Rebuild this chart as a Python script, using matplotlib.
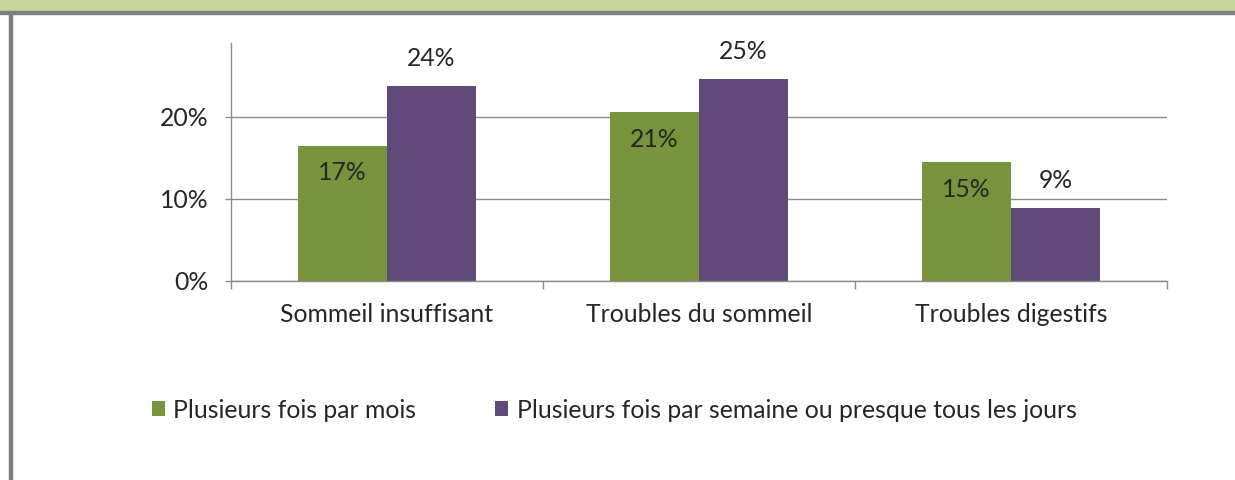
import numpy as np
import matplotlib.pyplot as plt
from matplotlib.patches import Rectangle

plt.rcParams['font.family'] = ['Lato', 'DejaVu Sans']

# data
categories = ['Sommeil insuffisant', 'Troubles du sommeil', 'Troubles digestifs']
series_names = ['Plusieurs fois par mois', 'Plusieurs fois par semaine ou presque tous les jours']
mois = [0.165, 0.206, 0.145]
semaine = [0.237, 0.246, 0.089]
labels_mois = ['17%', '21%', '15%']
labels_semaine = ['24%', '25%', '9%']
yticks = [0, 0.1, 0.2]
ytick_labels = ['0%', '10%', '20%']

green = '#77933C'
purple = '#604A7B'
grey = '#8C8C8C'
txt = '#262626'

W, H = 1235, 480
fig = plt.figure(figsize=(W/100, H/100), dpi=100)

# frame decoration (band on top, border on the left)
fig.patches.append(Rectangle((0, 1-11/H), 1, 11/H, transform=fig.transFigure, color='#C4D69C', zorder=0))
fig.patches.append(Rectangle((0, 1-14/H), 1, 3/H, transform=fig.transFigure, color='#7F7F7F', zorder=0))
fig.patches.append(Rectangle((9/W, 0), 2.5/W, 1-14/H, transform=fig.transFigure, color='#7F7F7F', zorder=0))

ax = fig.add_axes([231/W, (H-281)/H, 936/W, (281-43)/H])
x = np.arange(len(categories))
bw = 0.285
b1 = ax.bar(x-bw/2, mois, bw, color=green, zorder=2, label=series_names[0])
b2 = ax.bar(x+bw/2, semaine, bw, color=purple, zorder=2, label=series_names[1])

fs = 17.8
for rect, lab in zip(b1, labels_mois):
    ax.annotate(lab, (rect.get_x()+rect.get_width()/2, rect.get_height()), xytext=(0, -19.5),
                textcoords='offset points', ha='center', va='center', fontsize=fs, color=txt)
for rect, lab in zip(b2, labels_semaine):
    ax.annotate(lab, (rect.get_x()+rect.get_width()/2, rect.get_height()), xytext=(0, 20),
                textcoords='offset points', ha='center', va='center', fontsize=fs, color=txt)

ax.set_xlim(-0.5, len(categories)-0.5)
ax.set_ylim(0, 0.29)
ax.set_yticks(yticks)
ax.set_yticklabels(ytick_labels, fontsize=fs, color=txt)
ax.set_xticks(x)
ax.set_xticklabels(categories, fontsize=fs, color=txt)
ax.set_xticks(np.arange(-0.5, len(categories)), minor=True)
ax.tick_params(axis='x', which='major', length=0, pad=16)
ax.tick_params(axis='x', which='minor', length=6, color=grey, width=1)
ax.tick_params(axis='y', length=4.5, color=grey, width=1, pad=12)
ax.yaxis.grid(True, color=grey, linewidth=1, zorder=0)
ax.set_axisbelow(True)
for s in ['top', 'right']:
    ax.spines[s].set_visible(False)
for s in ['left', 'bottom']:
    ax.spines[s].set_color(grey)
    ax.spines[s].set_linewidth(1)

fig.legend(handles=[b1, b2], labels=series_names, loc='center left',
           bbox_to_anchor=(152/W, 1-410/H), ncol=2, frameon=False, fontsize=fs,
           borderpad=0, borderaxespad=0,
           handlelength=0.53, handleheight=0.53, handletextpad=0.33, columnspacing=3.2,
           labelcolor=txt)

fig.savefig('out.png', dpi=100, facecolor='white')
